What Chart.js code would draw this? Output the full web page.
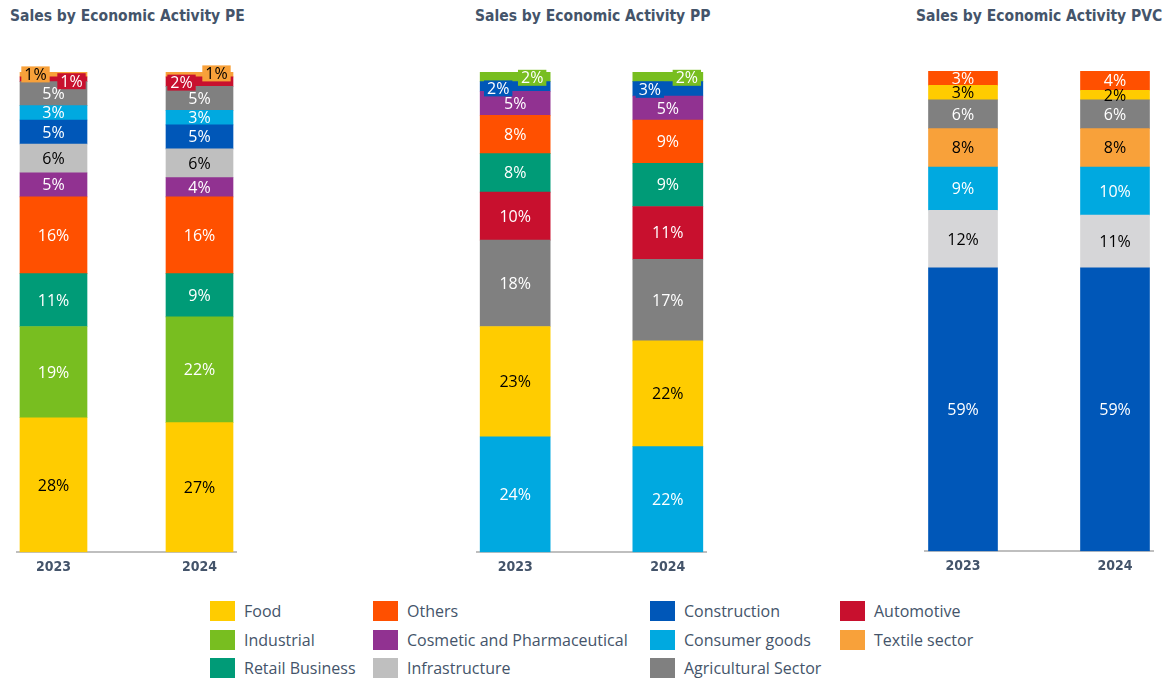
<!DOCTYPE html>
<html>
<head>
<meta charset="utf-8">
<title>Sales by Economic Activity</title>
<script src="https://cdn.jsdelivr.net/npm/chart.js@4.4.1/dist/chart.umd.min.js"></script>
<style>
    body {
        margin: 0;
        width: 1168px;
        height: 681px;
        position: relative;
        overflow: hidden;
        background: #fff;
        font-family: "Open Sans", sans-serif;
    }
    .title {
        position: absolute;
        top: 7px;
        font: bold 15.5px "DejaVu Sans Condensed", "DejaVu Sans", sans-serif;
        color: #44546A;
        white-space: nowrap;
    }
    .chart-box {
        position: absolute;
        top: 60px;
    }
    .legend {
        position: absolute;
        left: 210px;
        top: 597px;
        display: grid;
        grid-template-columns: 163px 277px 190px auto;
        grid-auto-rows: 28.5px;
    }
    .legend-item {
        display: flex;
        align-items: center;
        font-size: 16px;
        color: #44546A;
        white-space: nowrap;
    }
    .legend-item span {
        display: inline-block;
        width: 25px;
        height: 20px;
        margin-right: 9px;
    }
</style>
</head>
<body>

<div class="title" style="left: 10px;">Sales by Economic Activity PE</div>
<div class="title" style="left: 475px;">Sales by Economic Activity PP</div>
<div class="title" style="left: 916px;">Sales by Economic Activity PVC</div>

<div class="chart-box" style="left: 0px;"><canvas id="pe" width="250" height="530"></canvas></div>
<div class="chart-box" style="left: 460px;"><canvas id="pp" width="260" height="530"></canvas></div>
<div class="chart-box" style="left: 908px;"><canvas id="pvc" width="260" height="530"></canvas></div>

<div class="legend" id="legend"></div>

<script>
const years = ['2023', '2024'];

// PE, stacked bottom to top
const peCategories = ['Food', 'Industrial', 'Retail Business', 'Others', 'Cosmetic and Pharmaceutical',
    'Infrastructure', 'Construction', 'Consumer goods', 'Agricultural Sector', 'Automotive', 'Textile sector'];
const pe2023 = [28, 19, 11, 16, 5, 6, 5, 3, 5, 1, 1];
const pe2024 = [27, 22, 9, 16, 4, 6, 5, 3, 5, 2, 1];

// PP
const ppCategories = ['Consumer goods', 'Food', 'Agricultural Sector', 'Automotive', 'Retail Business',
    'Others', 'Cosmetic and Pharmaceutical', 'Construction', 'Industrial'];
const pp2023 = [24, 23, 18, 10, 8, 8, 5, 2, 2];
const pp2024 = [22, 22, 17, 11, 9, 9, 5, 3, 2];

// PVC
const pvcCategories = ['Construction', 'Infrastructure', 'Consumer goods', 'Textile sector',
    'Agricultural Sector', 'Food', 'Others'];
const pvc2023 = [59, 12, 9, 8, 6, 3, 3];
const pvc2024 = [59, 11, 10, 8, 6, 2, 4];

const legendOrder = ['Food', 'Others', 'Construction', 'Automotive', 'Industrial', 'Cosmetic and Pharmaceutical',
    'Consumer goods', 'Textile sector', 'Retail Business', 'Infrastructure', 'Agricultural Sector'];

let colors = {
    'Food': '#FFCC00',
    'Others': '#FF5000',
    'Construction': '#0057B8',
    'Automotive': '#C8102E',
    'Industrial': '#78BE20',
    'Cosmetic and Pharmaceutical': '#913291',
    'Consumer goods': '#00A9E0',
    'Textile sector': '#F8A13A',
    'Retail Business': '#009B77',
    'Infrastructure': '#BFBFBF',
    'Agricultural Sector': '#808080'
};

// these get black text, the rest white
let darkText = ['Food', 'Infrastructure', 'Textile sector'];

// draws the "n%" inside every segment; small ones can be pushed sideways (dx, dy per year)
const segmentLabels = {
    id: 'segmentLabels',
    afterDatasetsDraw(chart, args, opts) {
        let ctx = chart.ctx;
        ctx.save();
        ctx.font = '16px "Open Sans"';
        ctx.textAlign = 'center';
        ctx.textBaseline = 'middle';
        chart.data.datasets.forEach((ds, i) => {
            chart.getDatasetMeta(i).data.forEach((bar, j) => {
                let text = ds.data[j].y + '%';
                let shift = opts.shifts[ds.label] ? opts.shifts[ds.label][j] : null;
                let x = bar.x, y = (bar.y + bar.base) / 2;
                if (shift) {
                    x += shift[0];
                    y += shift[1];
                    let w = ctx.measureText(text).width + 6;
                    ctx.fillStyle = ds.backgroundColor;
                    ctx.fillRect(x - w / 2, y - 8, w, 16);
                }
                ctx.fillStyle = darkText.includes(ds.label) ? '#000' : '#fff';
                ctx.fillText(text, x, y + 1);
            });
        });
        ctx.restore();
    }
};

function makeChart(id, categories, first, second, opts) {
    let datasets = categories.map((name, i) => ({
        label: name,
        data: [{ x: 0, y: first[i] }, { x: 1, y: second[i] }],
        backgroundColor: (opts.colors && opts.colors[name]) || colors[name],
        borderWidth: 0
    }));

    return new Chart(document.getElementById(id), {
        type: 'bar',
        data: { datasets: datasets },
        plugins: [segmentLabels],
        options: {
            responsive: false,
            animation: false,
            devicePixelRatio: 1,
            barThickness: opts.bar,
            layout: { padding: opts.padding },
            plugins: {
                legend: { display: false },
                tooltip: { enabled: false },
                segmentLabels: { shifts: opts.shifts || {} }
            },
            scales: {
                x: {
                    type: 'linear',
                    stacked: true,
                    offset: false,
                    min: -0.25,
                    max: 1.25,
                    afterBuildTicks: function (axis) {
                        axis.ticks = [{ value: 0 }, { value: 1 }];
                    },
                    grid: { display: false, drawTicks: false },
                    border: { color: '#BFBFBF', width: 2 },
                    ticks: {
                        padding: 7,
                        color: '#44546A',
                        font: { family: '"DejaVu Sans Condensed", "DejaVu Sans"', weight: 'bold', size: 14 },
                        callback: v => years[v]
                    }
                },
                y: {
                    stacked: true,
                    display: false,
                    min: 0,
                    max: 100
                }
            }
        }
    });
}

makeChart('pe', peCategories, pe2023, pe2024, {
    bar: 67,
    padding: { left: 17, right: 14, top: 12, bottom: 7 },
    shifts: {
        'Textile sector': [[-18, 0], [17, -1]],
        'Automotive': [[18, 2], [-18, 1]]
    }
});

makeChart('pp', ppCategories, pp2023, pp2024, {
    bar: 70,
    padding: { left: 17, right: 14, top: 12, bottom: 7 },
    shifts: {
        'Industrial': [[17, 1], [19, 1]],
        'Construction': [[-17, 2], [-18, 1]]
    }
});

makeChart('pvc', pvcCategories, pvc2023, pvc2024, {
    bar: 69,
    padding: { left: 17, right: 15, top: 11, bottom: 8 },
    colors: { 'Infrastructure': '#D6D6D8' }
});

// legend below the three charts
let legend = document.getElementById('legend');
legendOrder.forEach(name => {
    let item = document.createElement('div');
    item.className = 'legend-item';
    item.innerHTML = '<span style="background:' + colors[name] + '"></span>' + name;
    legend.appendChild(item);
});
</script>
</body>
</html>
